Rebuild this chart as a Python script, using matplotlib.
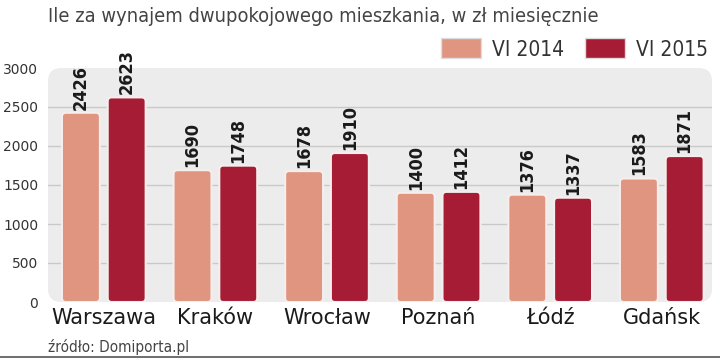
import numpy as np
import matplotlib.pyplot as plt
from matplotlib import font_manager as fm
from matplotlib.patches import FancyBboxPatch, Patch
from matplotlib.lines import Line2D

cities = ['Warszawa', 'Kraków', 'Wrocław', 'Poznań', 'Łódź', 'Gdańsk']
vals_2014 = [2426, 1690, 1678, 1400, 1376, 1583]
vals_2015 = [2623, 1748, 1910, 1412, 1337, 1871]
series_names = ['VI 2014', 'VI 2015']
yticks = [0, 500, 1000, 1500, 2000, 2500, 3000]

c14 = '#df9580'
c15 = '#a51c34'

# look for any narrow / condensed face that is installed
cond = None
for f in fm.fontManager.ttflist:
    nm = f.name.lower()
    if 'narrow' in nm or 'condensed' in nm or f.stretch in ('condensed', 'semi-condensed'):
        cond = f
        break

if cond is not None:
    narrow = dict(family=[cond.name, 'DejaVu Sans'], fontstretch=cond.stretch)
    lab_size, title_size, leg_size = 13, 14.4, 15
else:
    narrow = dict(family=['DejaVu Sans'])
    lab_size, title_size, leg_size = 11, 12.5, 13

fig = plt.figure(figsize=(7.2, 3.58), dpi=100)
ax_w, ax_h = 664, 234  # axes size in pixels
ax = fig.add_axes([48 / 720, 56 / 358, ax_w / 720, ax_h / 358])
ax.set_facecolor('none')
for s in ax.spines.values():
    s.set_visible(False)

xlim = (-0.5, 5.45)
ylim = (0, 3000)
ax.set_xlim(*xlim)
ax.set_ylim(*ylim)

# rounded gray panel
panel = FancyBboxPatch((0, 0), 1, 1, boxstyle='round,pad=0,rounding_size=0.02',
                       mutation_aspect=ax_w / ax_h, transform=ax.transAxes,
                       facecolor='#ececec', edgecolor='none', zorder=0)
ax.add_patch(panel)

x = np.arange(len(cities))
w = 0.34
off = 0.205
b1 = ax.bar(x - off, vals_2014, w, color=c14)
b2 = ax.bar(x + off, vals_2015, w, color=c15)

# swap the plain rectangles for rounded ones
px_x = ax_w / (xlim[1] - xlim[0])
px_y = ax_h / (ylim[1] - ylim[0])
aspect = px_x / px_y
for bars, col in ((b1, c14), (b2, c15)):
    for r in bars:
        r.set_visible(False)
        ax.add_patch(FancyBboxPatch((r.get_x(), 0), r.get_width(), r.get_height(),
                                    boxstyle='round,pad=0,rounding_size=%f' % (4 / px_x),
                                    mutation_aspect=aspect, facecolor=col,
                                    edgecolor='#f6eeec', linewidth=1.5, zorder=3))

for bars, vals in ((b1, vals_2014), (b2, vals_2015)):
    for r, v in zip(bars, vals):
        ax.text(r.get_x() + r.get_width() / 2, v + 40, str(v), rotation=90,
                ha='center', va='bottom', fontsize=lab_size, fontweight='bold',
                color='#1a1a1a', zorder=4, clip_on=False, **narrow)

ax.set_yticks(yticks)
ax.set_yticklabels([str(t) for t in yticks], fontsize=10, color='#333333')
for t in yticks[1:-1]:
    ax.axhline(t, color='#c9c9c9', lw=1, zorder=1)
ax.tick_params(axis='y', length=0, pad=7)
ax.set_xticks(x)
ax.set_xticklabels(cities, fontsize=15, color='#1a1a1a')
ax.tick_params(axis='x', length=0, pad=4)

fig.text(48 / 720, 1 - 16 / 358, 'Ile za wynajem dwupokojowego mieszkania, w zł miesięcznie',
         fontsize=title_size, color='#444444', va='center', ha='left', **narrow)
fig.text(48 / 720, 1 - 347 / 358, 'źródło: Domiporta.pl', fontsize=11,
         color='#444444', va='center', ha='left', **narrow)

handles = [Patch(facecolor=c14, edgecolor='#dddddd'), Patch(facecolor=c15, edgecolor='#dddddd')]
prop = {'size': leg_size, 'family': narrow['family']}
if 'fontstretch' in narrow:
    prop['stretch'] = narrow['fontstretch']
fig.legend(handles, series_names, loc='center right', bbox_to_anchor=(708 / 720, 1 - 49 / 358),
           ncol=2, frameon=False, handlelength=1.9, handleheight=1.1, borderpad=0,
           borderaxespad=0, columnspacing=1.0, handletextpad=0.55,
           labelcolor='#333333', prop=prop)

fig.add_artist(Line2D([0, 1], [1.5 / 358, 1.5 / 358], color='#555555', lw=1.2))

fig.savefig('out.png', dpi=100)
